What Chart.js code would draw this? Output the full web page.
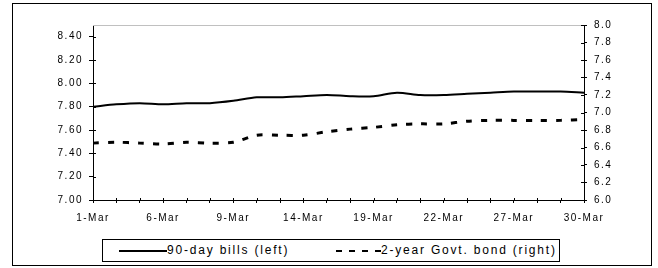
<!DOCTYPE html>
<html>
<head>
<meta charset="utf-8">
<script src="https://cdn.jsdelivr.net/npm/chart.js@4/dist/chart.umd.min.js"></script>
<style>
  body { margin: 0; background: #fff; }
  #wrap { position: relative; width: 658px; height: 268px; }
  #frame { position: absolute; left: 12px; top: 3px; width: 638px; height: 261px; border: 1px solid #000; }
  #chart { position: absolute; left: 0; top: 0; }
  #legend { position: absolute; left: 102px; top: 239px; width: 456px; height: 21px; border: 1px solid #000;
            font: 12px 'Liberation Sans', Arial, sans-serif; letter-spacing: 1.8px; color: #000; }
  #legend .txt { position: absolute; top: 0; line-height: 21px; white-space: nowrap; }
  #legend .solid { position: absolute; top: 10px; height: 2px; background: #000; }
  #legend .dash { position: absolute; top: 10px; height: 2px;
                  background: repeating-linear-gradient(270deg, #000 0 6px, transparent 6px 13px); }
</style>
</head>
<body>
<div id="wrap">
  <div id="frame"></div>
  <canvas id="chart" width="658" height="232"></canvas>
  <div id="legend">
    <span class="solid" style="left:16px;width:48px"></span>
    <span class="txt" style="left:64px">90-day bills (left)</span>
    <span class="dash" style="left:226px;width:52px"></span>
    <span class="txt" style="left:278px">2-year Govt. bond (right)</span>
  </div>
</div>
<script>
// business days, March
const dates = ['1-Mar', '2-Mar', '5-Mar', '6-Mar', '7-Mar', '8-Mar', '9-Mar', '12-Mar', '13-Mar', '14-Mar', '15-Mar',
               '16-Mar', '19-Mar', '20-Mar', '21-Mar', '22-Mar', '23-Mar', '26-Mar', '27-Mar', '28-Mar', '29-Mar', '30-Mar'];
const bills = [7.80, 7.82, 7.83, 7.82, 7.83, 7.83, 7.85, 7.88, 7.88, 7.89, 7.90,
               7.89, 7.89, 7.92, 7.90, 7.90, 7.91, 7.92, 7.93, 7.93, 7.93, 7.92];
const bond = [6.65, 6.66, 6.65, 6.64, 6.66, 6.65, 6.66, 6.74, 6.74, 6.74, 6.78,
              6.81, 6.83, 6.86, 6.87, 6.87, 6.90, 6.91, 6.91, 6.91, 6.91, 6.92];
const labelEvery = 3;
const leftMin = 7.0, leftMax = 8.5, leftLastTick = 8.4;
const rightMin = 6.0, rightMax = 8.0;

const FONT = { family: "'Liberation Sans', Arial, sans-serif", size: 10 };

// frame top line, inner half of the tick marks, letter spacing
const framePlugin = {
    id: 'frame',
    beforeDraw(chart) {
        chart.ctx.letterSpacing = '1.5px';
    },
    afterDraw(chart) {
        const ctx = chart.ctx;
        const a = chart.chartArea;
        ctx.save();
        ctx.strokeStyle = '#c0c0c0';
        ctx.lineWidth = 1;
        ctx.beginPath();
        ctx.moveTo(a.left, a.top + 0.5);
        ctx.lineTo(a.right, a.top + 0.5);
        ctx.stroke();
        ctx.strokeStyle = '#000';
        ctx.beginPath();
        const y = chart.scales.y;
        y.ticks.forEach((t, i) => {
            const p = Math.round(y.getPixelForTick(i)) + 0.5;
            ctx.moveTo(a.left, p); ctx.lineTo(a.left + 3, p);
        });
        const y2 = chart.scales.y2;
        y2.ticks.forEach((t, i) => {
            const p = Math.round(y2.getPixelForTick(i)) + 0.5;
            ctx.moveTo(a.right - 3, p); ctx.lineTo(a.right, p);
        });
        const x = chart.scales.x;
        x.ticks.forEach((t, i) => {
            const p = Math.round(x.getPixelForTick(i)) + 0.5;
            ctx.moveTo(p, a.bottom - 2); ctx.lineTo(p, a.bottom);
        });
        ctx.stroke();
        ctx.restore();
    }
};

new Chart(document.getElementById('chart'), {
    type: 'line',
    data: {
        labels: dates,
        datasets: [
            {
                label: '90-day bills (left)',
                data: bills,
                yAxisID: 'y',
                borderColor: '#000',
                borderWidth: 2,
                pointRadius: 0,
                tension: 0.3,
                fill: false
            },
            {
                label: '2-year Govt. bond (right)',
                data: bond,
                yAxisID: 'y2',
                borderColor: '#000',
                borderWidth: 3,
                borderDash: [6, 9],
                borderCapStyle: 'butt',
                pointRadius: 0,
                tension: 0.3,
                fill: false
            }
        ]
    },
    options: {
        responsive: false,
        animation: false,
        layout: { padding: { top: 25, left: 0, right: 0, bottom: 0 } },
        plugins: {
            legend: { display: false },
            tooltip: { enabled: false }
        },
        scales: {
            x: {
                offset: false,
                grid: { drawOnChartArea: false, drawTicks: true, tickLength: 3, color: '#000' },
                border: { color: '#000', width: 1 },
                ticks: {
                    autoSkip: false,
                    maxRotation: 0,
                    padding: 9,
                    color: '#000',
                    font: FONT,
                    callback: (v, i) => (i % labelEvery === 0 ? dates[i] : '')
                },
                afterFit(scale) { scale.height = 32; }
            },
            y: {
                position: 'left',
                min: leftMin,
                max: leftMax,
                grid: { drawOnChartArea: false, drawTicks: true, tickLength: 4, color: '#000' },
                border: { color: '#000', width: 1 },
                ticks: {
                    stepSize: 0.2,
                    padding: 6,
                    color: '#000',
                    font: FONT,
                    callback: v => v.toFixed(2)
                },
                afterBuildTicks(scale) {
                    scale.ticks = scale.ticks.filter(t => t.value <= leftLastTick + 1e-6);
                },
                afterFit(scale) { scale.width = 93; }
            },
            y2: {
                position: 'right',
                min: rightMin,
                max: rightMax,
                grid: { drawOnChartArea: false, drawTicks: true, tickLength: 3, color: '#000' },
                border: { color: '#000', width: 1 },
                ticks: {
                    stepSize: 0.2,
                    padding: 7,
                    color: '#000',
                    font: FONT,
                    callback: v => v.toFixed(1)
                },
                afterFit(scale) { scale.width = 74; }
            }
        }
    },
    plugins: [framePlugin]
});
</script>
</body>
</html>
